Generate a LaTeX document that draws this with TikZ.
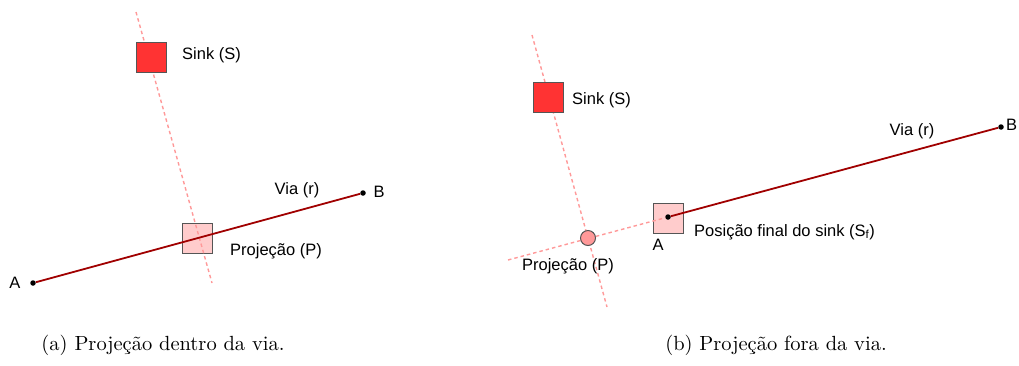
\documentclass[tikz,border=0pt]{standalone}
\usepackage{fontspec}
\newfontfamily\fonterotulo{Liberation Sans}
\usetikzlibrary{positioning}

\definecolor{sinkred}{HTML}{FF3333}
\definecolor{sinkpink}{HTML}{FFCCCC}
\definecolor{projred}{HTML}{FF9999}
\definecolor{viared}{HTML}{A00000}
\definecolor{borda}{HTML}{555555}

\tikzset{
  sinkbox/.style={draw=borda,fill=sinkred,minimum size=30pt,inner sep=0pt,line width=1pt},
  finalbox/.style={draw=borda,fill=sinkpink,minimum size=30pt,inner sep=0pt,line width=1pt},
  projdot/.style={circle,draw=borda,fill=projred,minimum size=15pt,inner sep=0pt,line width=1pt},
  ponto/.style={circle,fill=black,minimum size=5.5pt,inner sep=0pt},
  rotulo/.style={font=\fonterotulo\fontsize{16.5}{19}\selectfont,inner sep=0pt},
  perp/.style={draw=projred,line width=1.4pt,dash pattern=on 3.5pt off 3pt},
  via/.style={draw=viared,line width=1.8pt},
  legenda/.style={scale=2.05,inner sep=0pt}
}

\begin{document}
\begin{tikzpicture}[x=1pt,y=-1pt]
\useasboundingbox (0,0) rectangle (1019,365);

% (a) projecao dentro da via
\node[finalbox] (projE) at (197,238) {};
\coordinate (topoE) at (136,12);
\coordinate (baseE) at (212,283);
\draw[perp] (topoE) -- (baseE);
\node[sinkbox] (sinkE) at (151.5,57) {};
\node[ponto] (aE) at (33,283) {};
\node[ponto] (bE) at (363,193) {};
\draw[via] (aE) -- (bE);
\node[rotulo,anchor=west] (lblSinkE) at (182,55) {Sink (S)};
\node[rotulo] (lblAE) at (15,283) {A};
\node[rotulo] (lblBE) at (379,192) {B};
\node[rotulo] (lblViaE) at (297,190) {Via (r)};
\node[rotulo,anchor=west] (lblProjE) at (230,251) {Projeção (P)};
\node[legenda] (legA) at (163,345) {(a) Projeção dentro da via.};

% (b) projecao fora da via
\coordinate (topoD) at (532,35);
\coordinate (baseD) at (607,307);
\coordinate (extD) at (508,260);
\node[finalbox] (sinkF) at (668,218) {};
\node[ponto] (aD) at (668,217) {};
\node[ponto] (bD) at (1001,127) {};
\draw[perp] (topoD) -- (baseD);
\draw[perp] (extD) -- (aD);
\node[sinkbox] (sinkD) at (548.5,97.5) {};
\node[projdot] (projD) at (588,238) {};
\draw[via] (aD) -- (bD);
\node[rotulo,anchor=west] (lblSinkD) at (572,100) {Sink (S)};
\node[rotulo] (lblAD) at (658,245) {A};
\node[rotulo,anchor=west] (lblBD) at (1006,125) {B};
\node[rotulo] (lblViaD) at (912,131) {Via (r)};
\node[rotulo] (lblProjD) at (568,266) {Projeção (P)};
\node[rotulo,anchor=west] (lblFinalD) at (694,232) {Posição final do sink (S\textsubscript{f})};
\node[legenda] (legB) at (776,345) {(b) Projeção fora da via.};
\end{tikzpicture}
\end{document}
